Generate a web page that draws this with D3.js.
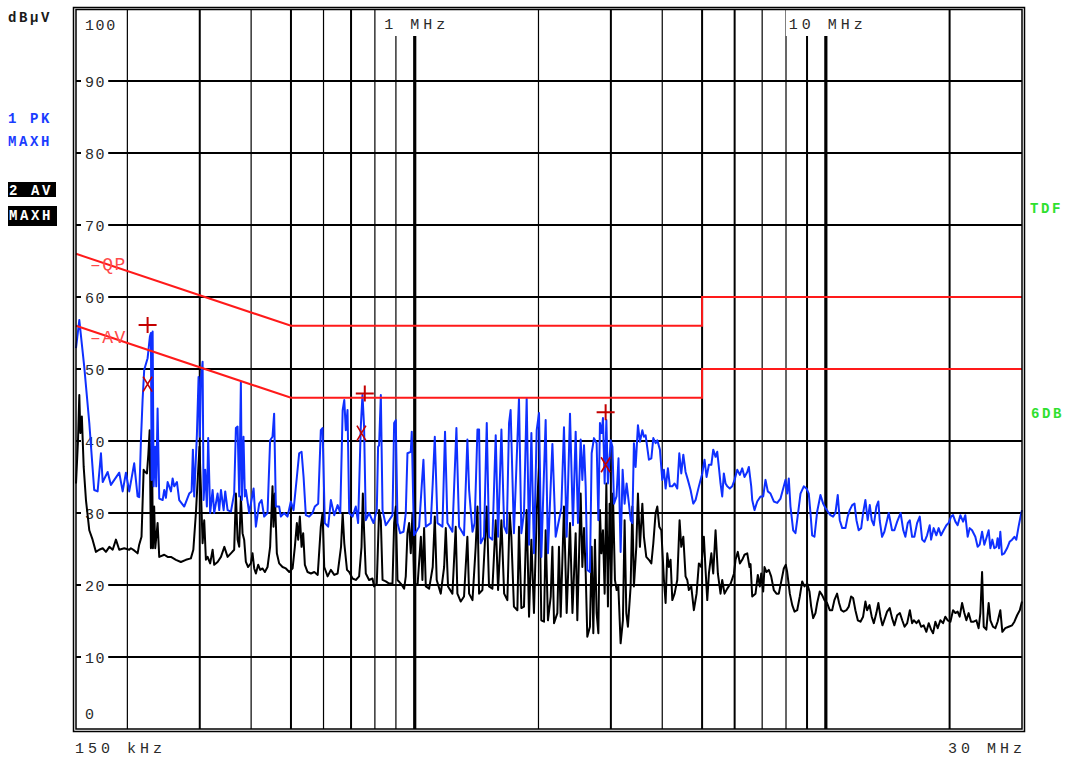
<!DOCTYPE html>
<html>
<head>
<meta charset="utf-8">
<script src="https://cdn.jsdelivr.net/npm/d3@7/dist/d3.min.js"></script>
<style>
  body { margin: 0; background: #fff; }
  svg text { font-family: "Liberation Mono", "DejaVu Sans Mono", monospace; }
</style>
</head>
<body>
<svg id="chart" width="1066" height="758"></svg>
<script>
// frequency in MHz, level in dBµV
const peakTrace = [[0.150,52.9],[0.1528,56.8],[0.1571,50.3],[0.1616,42.5],[0.1661,33.2],[0.1693,33.0],[0.1725,38.3],[0.1742,34.3],[0.1791,35.7],[0.1824,33.9],[0.1911,35.6],[0.1948,33.0],[0.1984,35.6],[0.2021,33.0],[0.2078,36.9],[0.2118,32.3],[0.2137,32.2],[0.2158,40.1],[0.2178,45.7],[0.2198,49.9],[0.2240,51.5],[0.2269,54.5],[0.2282,55.0],[0.2291,34.6],[0.2304,55.2],[0.2317,33.7],[0.2338,39.2],[0.2351,33.7],[0.2369,44.5],[0.2391,32.0],[0.2437,31.8],[0.2459,33.2],[0.2482,32.1],[0.2506,34.3],[0.2553,33.0],[0.2577,34.8],[0.2600,33.7],[0.2640,34.3],[0.2674,31.8],[0.2750,30.9],[0.2828,32.7],[0.2866,33.0],[0.2887,38.8],[0.2908,32.3],[0.2952,40.8],[0.2980,48.9],[0.3002,40.6],[0.3019,48.5],[0.3048,51.0],[0.3065,31.8],[0.3093,36.0],[0.3122,30.9],[0.3145,40.4],[0.3180,30.0],[0.3224,33.2],[0.3253,30.0],[0.3315,32.7],[0.3346,30.4],[0.3378,33.2],[0.3429,30.4],[0.3460,33.0],[0.3506,30.4],[0.3572,30.2],[0.3638,32.7],[0.3673,41.8],[0.3708,42.0],[0.3742,32.3],[0.3777,48.2],[0.3798,31.8],[0.3833,40.6],[0.3862,32.3],[0.3884,33.2],[0.3957,30.0],[0.4056,33.4],[0.4108,28.1],[0.4185,31.3],[0.4242,31.8],[0.4303,29.5],[0.4385,30.0],[0.4449,40.1],[0.4509,40.6],[0.4550,43.8],[0.4594,30.9],[0.4680,30.9],[0.4724,29.5],[0.4813,30.0],[0.4905,29.5],[0.4997,31.6],[0.5073,30.4],[0.5168,35.0],[0.5235,38.3],[0.5306,38.5],[0.5366,35.0],[0.5434,29.7],[0.5537,29.5],[0.5641,30.0],[0.5715,30.9],[0.5823,31.3],[0.5910,41.5],[0.5968,41.8],[0.6044,28.6],[0.6158,28.1],[0.6252,31.8],[0.6372,29.7],[0.6494,31.1],[0.6590,30.0],[0.6679,44.3],[0.6740,45.7],[0.6798,41.5],[0.6863,44.3],[0.6928,30.0],[0.7059,29.5],[0.7189,30.9],[0.7283,28.6],[0.7393,42.0],[0.7463,46.4],[0.7530,42.0],[0.7603,29.0],[0.7745,30.0],[0.7939,28.6],[0.8086,30.4],[0.8145,39.2],[0.8191,39.4],[0.8271,46.4],[0.8351,30.4],[0.8504,28.3],[0.8666,29.0],[0.8830,29.7],[0.8911,42.5],[0.8993,42.9],[0.9080,28.6],[0.9215,27.2],[0.9394,27.4],[0.9511,30.0],[0.9601,38.3],[0.9781,38.5],[0.9836,41.3],[0.9930,30.0],[0.9963,26.9],[1.025,28.1],[1.040,33.8],[1.050,37.4],[1.064,28.1],[1.094,28.6],[1.106,34.1],[1.119,40.6],[1.136,28.6],[1.168,28.1],[1.185,41.3],[1.201,28.6],[1.235,27.4],[1.263,41.8],[1.282,28.1],[1.318,26.9],[1.343,40.2],[1.356,33.2],[1.382,27.4],[1.399,28.6],[1.421,41.6],[1.434,41.6],[1.447,25.8],[1.474,26.7],[1.497,42.5],[1.516,26.7],[1.545,26.3],[1.574,40.8],[1.595,26.7],[1.625,41.6],[1.650,28.1],[1.674,27.2],[1.696,42.5],[1.711,44.3],[1.743,27.2],[1.793,45.9],[1.817,27.2],[1.844,30.0],[1.872,45.9],[1.897,25.6],[1.922,41.1],[1.950,24.4],[1.980,41.5],[2.006,43.9],[2.032,23.9],[2.082,42.9],[2.109,24.4],[2.162,39.6],[2.202,26.7],[2.243,29.0],[2.273,30.7],[2.307,41.9],[2.342,26.7],[2.386,43.8],[2.426,28.3],[2.463,41.3],[2.495,28.6],[2.533,40.2],[2.557,34.6],[2.581,39.4],[2.605,33.7],[2.629,22.1],[2.668,21.8],[2.694,38.3],[2.729,40.4],[2.770,39.7],[2.797,29.0],[2.822,42.5],[2.849,41.1],[2.870,43.2],[2.897,34.1],[2.925,42.9],[2.951,34.1],[2.997,40.1],[3.026,39.2],[3.053,31.3],[3.096,32.3],[3.131,37.6],[3.168,24.6],[3.204,36.0],[3.240,31.3],[3.276,34.1],[3.319,31.3],[3.351,29.0],[3.383,28.6],[3.413,39.7],[3.446,36.4],[3.491,42.2],[3.530,39.9],[3.578,41.5],[3.610,40.6],[3.644,40.8],[3.712,37.4],[3.763,37.6],[3.805,40.4],[3.854,39.7],[3.891,40.1],[3.948,38.8],[4.001,34.6],[4.038,36.0],[4.076,33.4],[4.129,36.2],[4.175,33.7],[4.232,33.7],[4.286,34.1],[4.351,33.4],[4.401,38.3],[4.450,35.5],[4.501,38.1],[4.558,35.7],[4.617,34.6],[4.688,33.2],[4.759,31.3],[4.821,31.8],[4.911,33.7],[5.005,35.5],[5.069,37.4],[5.127,35.0],[5.195,36.7],[5.266,36.7],[5.322,38.8],[5.392,37.8],[5.443,38.5],[5.492,36.4],[5.544,34.1],[5.597,32.3],[5.648,35.5],[5.702,34.1],[5.757,33.7],[5.839,33.4],[5.919,33.7],[5.997,34.6],[6.088,36.0],[6.178,35.3],[6.260,36.2],[6.341,35.0],[6.439,35.7],[6.497,36.4],[6.584,33.7],[6.621,31.8],[6.706,30.4],[6.809,31.6],[6.936,32.3],[7.041,32.3],[7.132,34.6],[7.225,33.0],[7.334,32.7],[7.472,31.6],[7.615,31.4],[7.758,32.0],[7.902,33.7],[7.977,34.6],[8.053,32.7],[8.126,34.8],[8.203,30.9],[8.328,27.6],[8.436,27.2],[8.517,29.0],[8.677,32.7],[8.837,33.7],[8.972,33.4],[9.088,32.7],[9.175,30.0],[9.263,26.9],[9.382,26.7],[9.526,30.2],[9.704,32.5],[9.850,31.3],[9.978,30.7],[10.11,30.2],[10.26,29.7],[10.41,29.5],[10.55,30.0],[10.69,32.5],[10.81,29.0],[10.96,27.9],[11.16,27.9],[11.30,29.5],[11.43,30.4],[11.59,31.1],[11.74,31.3],[11.87,29.0],[12.02,27.6],[12.19,27.9],[12.32,30.0],[12.48,31.8],[12.64,29.0],[12.79,31.1],[12.93,29.0],[13.08,28.3],[13.27,30.9],[13.42,31.6],[13.52,29.0],[13.70,26.7],[13.88,27.4],[14.09,29.0],[14.22,30.0],[14.49,27.6],[14.68,27.6],[14.91,28.8],[15.20,30.0],[15.43,27.6],[15.61,26.7],[15.82,28.6],[16.00,29.0],[16.21,26.7],[16.42,26.7],[16.67,28.6],[16.92,29.5],[17.15,26.3],[17.37,26.0],[17.63,26.9],[17.89,28.3],[18.03,26.3],[18.29,27.9],[18.57,26.9],[18.81,27.9],[19.06,26.9],[19.34,27.6],[19.64,28.3],[19.89,28.6],[20.16,29.5],[20.39,29.7],[20.66,28.8],[20.92,28.3],[21.24,29.7],[21.57,28.8],[21.84,29.7],[22.13,26.7],[22.38,27.9],[22.68,27.6],[23.10,26.7],[23.40,25.3],[23.67,25.6],[23.99,27.4],[24.29,25.6],[24.57,26.5],[24.89,27.6],[25.13,25.1],[25.41,26.3],[25.69,25.1],[25.98,25.3],[26.17,26.5],[26.38,25.1],[26.57,27.4],[26.82,24.2],[27.17,24.4],[27.59,25.1],[27.99,26.0],[28.38,26.3],[28.75,26.7],[29.06,26.3],[29.43,28.1],[29.80,29.7],[30.0,30.4]];

const avgTrace = [[0.150,34.1],[0.1517,40.1],[0.1528,46.4],[0.1537,41.1],[0.1550,43.4],[0.1566,36.4],[0.1586,31.8],[0.1616,27.6],[0.1646,26.3],[0.1677,24.6],[0.1708,24.9],[0.1742,25.1],[0.1774,24.6],[0.1808,25.3],[0.1842,24.9],[0.1876,26.3],[0.1911,24.9],[0.1965,25.1],[0.2021,24.9],[0.2040,25.1],[0.2078,24.8],[0.2118,24.4],[0.2137,25.6],[0.2165,26.7],[0.2191,36.0],[0.2210,35.7],[0.2232,35.5],[0.2249,38.1],[0.2266,41.5],[0.2282,25.1],[0.2295,39.7],[0.2308,25.1],[0.2324,30.9],[0.2338,25.1],[0.2369,28.6],[0.2391,23.9],[0.2459,24.2],[0.2506,23.9],[0.2553,23.9],[0.2625,23.5],[0.2699,23.2],[0.2776,23.5],[0.2854,23.7],[0.2894,24.9],[0.2936,30.0],[0.2995,39.2],[0.3019,33.4],[0.3048,25.8],[0.3076,29.0],[0.3105,23.5],[0.3135,23.9],[0.3180,23.0],[0.3224,24.9],[0.3253,22.8],[0.3315,23.2],[0.3378,23.9],[0.3443,25.3],[0.3506,23.9],[0.3572,24.4],[0.3638,24.9],[0.3673,32.7],[0.3708,26.3],[0.3742,25.3],[0.3777,32.3],[0.3812,27.2],[0.3847,26.3],[0.3884,23.2],[0.3933,22.5],[0.3994,23.0],[0.4032,24.4],[0.4070,22.3],[0.4108,21.6],[0.4162,22.8],[0.4209,22.1],[0.4265,22.3],[0.4320,21.8],[0.4385,22.5],[0.4449,25.3],[0.4509,33.7],[0.4534,28.1],[0.4568,32.7],[0.4620,24.4],[0.4680,23.0],[0.4770,22.5],[0.4859,22.3],[0.4952,21.8],[0.5046,22.3],[0.5110,25.3],[0.5168,28.6],[0.5206,26.3],[0.5255,29.5],[0.5306,25.3],[0.5354,27.2],[0.5405,22.8],[0.5487,21.8],[0.5592,21.6],[0.5698,21.8],[0.5808,21.4],[0.5910,28.1],[0.5968,30.0],[0.6024,22.5],[0.6139,21.2],[0.6252,22.1],[0.6372,21.4],[0.6494,21.6],[0.6618,25.3],[0.6679,30.0],[0.6740,25.8],[0.6843,22.1],[0.6928,21.8],[0.7059,20.9],[0.7189,20.7],[0.7324,21.2],[0.7423,25.3],[0.7478,32.7],[0.7530,27.6],[0.7603,21.6],[0.7745,20.7],[0.7893,20.9],[0.7966,19.8],[0.8086,20.2],[0.8191,30.4],[0.8271,29.0],[0.8351,20.7],[0.8504,20.5],[0.8666,20.2],[0.8830,20.2],[0.8911,28.6],[0.8993,30.9],[0.9080,20.7],[0.9248,20.2],[0.9425,19.5],[0.9511,21.2],[0.9601,27.2],[0.9691,28.6],[0.9781,24.4],[0.9874,30.0],[0.9963,20.2],[1.016,20.0],[1.035,26.7],[1.044,20.7],[1.054,27.9],[1.064,19.8],[1.084,19.5],[1.106,22.5],[1.119,29.5],[1.131,20.7],[1.157,18.8],[1.179,22.5],[1.190,27.9],[1.205,19.8],[1.235,18.8],[1.258,28.1],[1.270,18.8],[1.294,17.7],[1.318,18.4],[1.343,26.7],[1.356,18.8],[1.382,17.9],[1.407,25.3],[1.421,30.9],[1.434,18.8],[1.461,19.3],[1.497,30.9],[1.516,19.8],[1.545,19.5],[1.574,29.0],[1.595,19.3],[1.625,29.0],[1.650,18.8],[1.680,17.9],[1.702,30.0],[1.718,26.7],[1.743,17.0],[1.777,16.5],[1.793,28.1],[1.817,16.8],[1.844,17.0],[1.872,30.4],[1.897,15.6],[1.922,26.3],[1.950,16.1],[1.980,30.0],[2.006,36.4],[2.032,15.1],[2.063,14.9],[2.082,27.6],[2.109,15.1],[2.142,18.4],[2.162,25.3],[2.182,14.7],[2.223,16.1],[2.243,25.3],[2.265,15.6],[2.307,30.9],[2.342,16.1],[2.386,28.6],[2.419,16.1],[2.463,27.2],[2.486,15.1],[2.533,32.7],[2.557,22.5],[2.581,27.9],[2.605,21.8],[2.629,12.8],[2.668,14.2],[2.694,25.3],[2.719,13.3],[2.744,26.3],[2.770,16.1],[2.797,13.3],[2.822,30.4],[2.844,24.4],[2.870,27.6],[2.897,18.8],[2.925,34.1],[2.951,17.0],[2.979,31.3],[3.007,19.8],[3.035,32.7],[3.069,20.7],[3.098,19.3],[3.128,19.8],[3.168,11.9],[3.209,15.1],[3.240,29.0],[3.271,16.1],[3.300,14.2],[3.351,19.8],[3.383,30.9],[3.413,19.8],[3.459,25.3],[3.491,32.7],[3.530,25.3],[3.578,31.3],[3.610,26.7],[3.658,23.9],[3.712,23.5],[3.763,23.0],[3.805,25.8],[3.854,30.0],[3.891,30.9],[3.934,28.1],[3.979,27.6],[4.038,20.7],[4.076,17.5],[4.114,24.4],[4.151,22.5],[4.191,23.5],[4.232,17.9],[4.286,18.8],[4.351,20.7],[4.408,29.0],[4.450,25.3],[4.501,26.7],[4.558,21.2],[4.602,20.7],[4.643,19.3],[4.706,19.8],[4.775,16.5],[4.848,18.8],[4.911,23.0],[4.977,22.5],[5.050,26.7],[5.098,22.1],[5.147,17.9],[5.195,21.6],[5.266,24.4],[5.322,21.6],[5.392,27.6],[5.462,21.6],[5.544,18.8],[5.597,20.7],[5.670,18.8],[5.757,19.5],[5.867,20.2],[5.979,21.6],[6.030,23.5],[6.108,24.6],[6.178,23.0],[6.260,23.5],[6.341,24.2],[6.439,24.4],[6.522,22.5],[6.559,22.9],[6.621,18.4],[6.744,18.8],[6.832,21.4],[6.909,19.8],[6.963,21.6],[7.041,19.1],[7.092,22.5],[7.173,21.8],[7.265,22.1],[7.362,21.2],[7.472,19.3],[7.585,18.8],[7.684,18.8],[7.834,21.2],[7.902,22.3],[7.991,22.8],[8.053,21.8],[8.173,18.8],[8.285,17.2],[8.392,16.3],[8.517,16.5],[8.642,18.4],[8.759,20.5],[8.872,19.8],[9.007,20.2],[9.123,19.1],[9.211,17.0],[9.314,15.4],[9.435,16.1],[9.526,17.5],[9.665,19.1],[9.795,18.6],[9.922,17.9],[10.07,17.5],[10.22,16.5],[10.36,16.5],[10.49,17.9],[10.65,18.8],[10.77,17.5],[10.90,16.5],[11.05,16.3],[11.22,16.5],[11.37,17.0],[11.52,18.4],[11.65,18.2],[11.80,16.5],[11.96,15.1],[12.14,14.9],[12.32,15.6],[12.48,17.7],[12.60,16.5],[12.77,17.2],[12.93,15.6],[13.08,14.7],[13.27,16.1],[13.42,17.5],[13.58,15.6],[13.73,14.4],[13.83,14.9],[14.09,16.3],[14.30,16.8],[14.49,15.4],[14.68,14.4],[14.91,15.8],[15.14,16.1],[15.34,15.1],[15.54,14.2],[15.77,14.7],[16.01,16.5],[16.21,14.7],[16.37,15.1],[16.61,14.7],[16.82,15.1],[17.05,14.2],[17.30,14.4],[17.56,13.5],[17.79,14.7],[18.03,13.8],[18.23,13.3],[18.47,14.9],[18.71,14.0],[18.99,15.1],[19.28,14.7],[19.53,15.6],[19.78,15.1],[20.09,14.9],[20.39,16.5],[20.66,16.1],[20.92,16.3],[21.16,15.6],[21.45,17.5],[21.72,16.1],[21.97,15.1],[22.25,16.1],[22.55,14.9],[22.88,14.9],[23.23,15.1],[23.53,14.0],[23.76,16.1],[23.99,21.8],[24.21,14.2],[24.57,13.8],[24.89,17.5],[25.13,15.1],[25.51,14.2],[25.84,14.0],[26.17,14.9],[26.57,16.5],[26.87,13.5],[27.32,14.0],[27.84,14.2],[28.38,14.4],[28.75,14.9],[29.19,15.8],[29.63,16.5],[30.0,17.7]];

// EN 55022 class B style limits
const qpLimit = [[0.15,66],[0.5,56],[5,56],[5,60],[30,60]];
const avLimit = [[0.15,56],[0.5,46],[5,46],[5,50],[30,50]];

// final measurement markers
const qpMarks = [[0.224,56.1],[0.756,46.6],[2.913,44.0]];
const avMarks = [[0.224,47.9],[0.742,41.1],[2.913,36.7]];

const levelTicks = [0,10,20,30,40,50,60,70,80,90,100];
const freqGrid = [0.2,0.3,0.4,0.5,0.6,0.7,0.8,0.9,1,2,3,4,5,6,7,8,9,10,20];
const freqTopLabels = [[1,'1 MHz'],[10,'10 MHz']];

const svg = d3.select('#chart');
const x = d3.scaleLog().domain([0.15, 30]).range([76, 1022]);
const y = d3.scaleLinear().domain([0, 100]).range([729, 9]);

const heavy = new Set([1, 10]);
const medium = new Set([0.3, 0.5, 0.7, 3, 5, 6, 9, 20]);

// grid
const grid = svg.append('g');
grid.selectAll('line.h')
  .data(levelTicks.filter(v => v > 0 && v < 100))
  .enter().append('line')
  .attr('x1', 76).attr('x2', 1022)
  .attr('y1', d => y(d)).attr('y2', d => y(d))
  .attr('stroke', '#000').attr('stroke-width', 2);

grid.selectAll('line.v')
  .data(freqGrid)
  .enter().append('line')
  .attr('x1', d => x(d)).attr('x2', d => x(d))
  .attr('y1', 9).attr('y2', 729)
  .attr('stroke', '#000')
  .attr('stroke-width', d => heavy.has(d) ? 3.2 : (medium.has(d) ? 2 : 1.2));

// text with a white box behind it
function boxedText(parent, px, py, txt, opts, pad) {
  const g = parent.append('g');
  const r = g.append('rect').attr('fill', '#fff');
  const t = g.append('text')
    .attr('x', px).attr('y', py)
    .attr('font-size', 15).attr('letter-spacing', opts.ls)
    .attr('text-anchor', opts.anchor || 'start')
    .attr('fill', '#2a2a2a')
    .text(txt);
  const b = t.node().getBBox();
  r.attr('x', b.x - pad[0]).attr('y', pad[2])
    .attr('width', b.width + pad[0] + pad[1]).attr('height', pad[3]);
  return g;
}

// level labels
const lvl = svg.append('g');
levelTicks.forEach(v => {
  const cy = Math.max(24, Math.min(713, y(v)));
  boxedText(lvl, 85, cy + 5.5, v, { ls: 1.6 }, [4, 2, cy - 8, 16]);
});

// top frequency labels
freqTopLabels.forEach(([f, s]) => {
  boxedText(svg, x(f) + 2, 29, s, { ls: 4, anchor: 'middle' }, [3, -1, 10, 26]);
});

const line = d3.line().x(d => x(d[0])).y(d => y(d[1]));

// traces
svg.append('path').datum(avgTrace)
  .attr('d', line).attr('fill', 'none')
  .attr('stroke', '#000').attr('stroke-width', 2).attr('stroke-linejoin', 'round');
svg.append('path').datum(peakTrace)
  .attr('d', line).attr('fill', 'none')
  .attr('stroke', '#0f30ff').attr('stroke-width', 2).attr('stroke-linejoin', 'round');

// limit lines
[qpLimit, avLimit].forEach(lim => {
  svg.append('path').datum(lim)
    .attr('d', line).attr('fill', 'none')
    .attr('stroke', '#ff1a1a').attr('stroke-width', 2);
});
const limitLabel = (txt, py) => svg.append('text').attr('x', 90).attr('y', py)
  .attr('font-family', '"Liberation Serif", "DejaVu Serif", serif')
  .attr('font-size', 18).attr('letter-spacing', 1.5).attr('fill', '#ff4a4a')
  .text(txt);
limitLabel('\u2013QP', 270);
limitLabel('\u2013AV', 343);

// markers
const mk = svg.append('g').attr('stroke', '#c40000').attr('fill', 'none');
qpMarks.forEach(([f, v]) => {
  const cx = x(f), cy = y(v);
  mk.append('path').attr('stroke-width', 2)
    .attr('d', `M${cx - 9},${cy}H${cx + 9}M${cx},${cy - 8}V${cy + 8}`);
});
avMarks.forEach(([f, v]) => {
  const cx = x(f), cy = y(v);
  mk.append('path').attr('stroke-width', 1.6)
    .attr('d', `M${cx - 4.5},${cy - 7.5}L${cx + 4.5},${cy + 7.5}M${cx + 4.5},${cy - 7.5}L${cx - 4.5},${cy + 7.5}`);
});

// frame (double line)
svg.append('rect').attr('x', 73.5).attr('y', 7.5).attr('width', 951).attr('height', 724)
  .attr('fill', 'none').attr('stroke', '#000').attr('stroke-width', 1.5);
svg.append('rect').attr('x', 76).attr('y', 9.5).attr('width', 946).attr('height', 719.5)
  .attr('fill', 'none').attr('stroke', '#000').attr('stroke-width', 1.5);

// axis end labels
svg.append('text').attr('x', 75).attr('y', 753)
  .attr('font-size', 15).attr('letter-spacing', 4).attr('fill', '#2a2a2a')
  .text('150 kHz');
svg.append('text').attr('x', 1026).attr('y', 753).attr('text-anchor', 'end')
  .attr('font-size', 15).attr('letter-spacing', 4).attr('fill', '#2a2a2a')
  .text('30 MHz');

// side annotations
const side = (txt, px, py, color) => svg.append('text')
  .attr('x', px).attr('y', py)
  .attr('font-size', 14).attr('font-weight', 'bold').attr('letter-spacing', 2.6)
  .attr('fill', color).text(txt);

side('dB\u00b5V', 8, 22, '#1a1a1a');
side('1 PK', 8, 123, '#1a3cff');
side('MAXH', 8, 146, '#1a3cff');
svg.append('rect').attr('x', 8).attr('y', 182).attr('width', 48).attr('height', 15).attr('fill', '#000');
svg.append('rect').attr('x', 8).attr('y', 206).attr('width', 49).attr('height', 20).attr('fill', '#000');
side('2 AV', 9, 195, '#fff');
side('MAXH', 9, 220, '#fff');
side('TDF', 1030, 213, '#2fe02f');
side('6DB', 1031, 418, '#2fe02f');
</script>
</body>
</html>
